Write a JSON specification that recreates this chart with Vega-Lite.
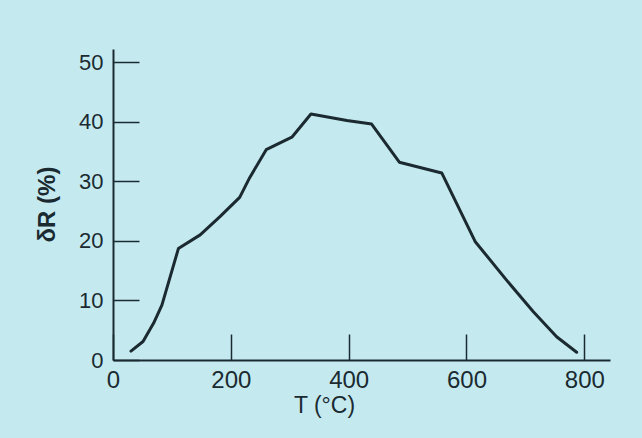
{
  "$schema": "https://vega.github.io/schema/vega-lite/v6.json",
  "autosize": {"type": "none"},
  "padding": {"left": 113, "top": 49, "right": 32, "bottom": 78},
  "width": 497,
  "height": 311,
  "background": "#c4eaf0",
  "config": {
    "view": {"stroke": null},
    "font": "Liberation Sans"
  },
  "data": {
    "values": [
      {"T": 30.5, "dR": 1.5},
      {"T": 51, "dR": 3.1},
      {"T": 69, "dR": 6.2},
      {"T": 83, "dR": 9.2},
      {"T": 111, "dR": 18.7},
      {"T": 148, "dR": 21.0},
      {"T": 182, "dR": 24.1},
      {"T": 215, "dR": 27.3},
      {"T": 232, "dR": 30.6},
      {"T": 260, "dR": 35.3},
      {"T": 303.6, "dR": 37.4},
      {"T": 336, "dR": 41.3},
      {"T": 397, "dR": 40.2},
      {"T": 439, "dR": 39.6},
      {"T": 486, "dR": 33.2},
      {"T": 558, "dR": 31.4},
      {"T": 614.6, "dR": 19.9},
      {"T": 668, "dR": 13.4},
      {"T": 713.5, "dR": 8.1},
      {"T": 753, "dR": 3.9},
      {"T": 787, "dR": 1.3}
    ]
  },
  "mark": {"type": "line", "color": "#1b2a30", "strokeWidth": 3, "strokeJoin": "round", "strokeCap": "round"},
  "encoding": {
    "x": {
      "field": "T",
      "type": "quantitative",
      "scale": {"domain": [0, 843.6], "nice": false, "zero": false},
      "axis": {
        "values": [0, 200, 400, 600, 800],
        "grid": false,
        "title": "T  (°C)",
        "titleFont": "Liberation Sans",
        "titleFontSize": 23,
        "titleFontWeight": "normal",
        "titleColor": "#1b2a30",
        "titleX": 211,
        "titleY": 34,
        "titleBaseline": "top",
        "titleAnchor": null,
        "domainColor": "#1b2a30",
        "domainWidth": 2,
        "tickColor": "#1b2a30",
        "tickWidth": 1.5,
        "tickSize": -26,
        "labelFont": "Liberation Sans",
        "labelFontSize": 24,
        "labelColor": "#1b2a30",
        "labelPadding": 34,
        "labelDx": 5,
        "labelFlush": false,
        "labelOverlap": false
      }
    },
    "y": {
      "field": "dR",
      "type": "quantitative",
      "scale": {"domain": [0, 52.2], "nice": false, "zero": false},
      "axis": {
        "values": [0, 10, 20, 30, 40, 50],
        "grid": false,
        "title": "δR (%)",
        "titleFont": "Liberation Sans",
        "titleFontSize": 24,
        "titleFontWeight": "bold",
        "titleColor": "#1b2a30",
        "titleX": -66,
        "titleY": 155,
        "titleAngle": -90,
        "titleBaseline": "middle",
        "titleAlign": "center",
        "domainColor": "#1b2a30",
        "domainWidth": 2,
        "tickColor": "#1b2a30",
        "tickWidth": 1.5,
        "tickSize": -26,
        "labelFont": "Liberation Sans",
        "labelFontSize": 22,
        "labelColor": "#1b2a30",
        "labelPadding": 36,
        "labelFlush": false,
        "labelOverlap": false
      }
    }
  }
}
